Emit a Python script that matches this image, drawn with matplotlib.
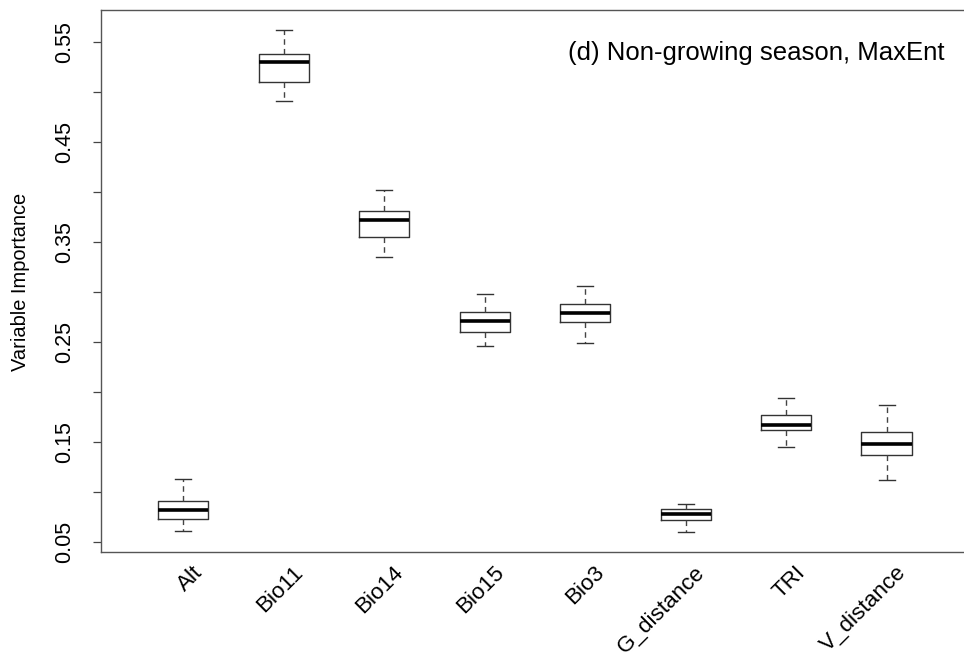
import matplotlib
matplotlib.use("Agg")
import matplotlib.pyplot as plt
import matplotlib.transforms as mtransforms

plt.rcParams['font.family'] = ['Liberation Sans', 'DejaVu Sans']

# 变量名称
variables = ["Alt", "Bio11", "Bio14", "Bio15", "Bio3", "G_distance", "TRI", "V_distance"]
# 箱线图五数: 下须, 下四分位, 中位数, 上四分位, 上须
whisker_low = [0.0607, 0.4904, 0.3344, 0.2454, 0.2484, 0.0597, 0.1450, 0.1124]
q1 = [0.0730, 0.5097, 0.3547, 0.2594, 0.2694, 0.0724, 0.1620, 0.1370]
medians = [0.0817, 0.5300, 0.3714, 0.2707, 0.2784, 0.0784, 0.1670, 0.1477]
q3 = [0.0914, 0.5380, 0.3810, 0.2800, 0.2874, 0.0827, 0.1767, 0.1600]
whisker_high = [0.1127, 0.5617, 0.4014, 0.2980, 0.3060, 0.0877, 0.1940, 0.1870]

y_ticks = [0.05, 0.10, 0.15, 0.20, 0.25, 0.30, 0.35, 0.40, 0.45, 0.50, 0.55]
y_labels = ["0.05", "", "0.15", "", "0.25", "", "0.35", "", "0.45", "", "0.55"]

stats = []
for i, name in enumerate(variables):
    stats.append({
        "label": name,
        "whislo": whisker_low[i],
        "q1": q1[i],
        "med": medians[i],
        "q3": q3[i],
        "whishi": whisker_high[i],
        "fliers": [],
    })

fig = plt.figure(figsize=(9.64, 6.57), dpi=100)
# 右边框略超出画面 (原图被裁切)
ax = fig.add_axes([100.8 / 964, 104.7 / 657, 868.2 / 964, 542.3 / 657])

ax.bxp(stats, positions=range(1, len(variables) + 1), widths=0.5,
       capwidths=0.16, showfliers=False,
       boxprops=dict(color="#333333", linewidth=1.0),
       medianprops=dict(color="black", linewidth=2.6, solid_capstyle="butt"),
       whiskerprops=dict(color="#444444", linewidth=1.0, linestyle=(0, (4, 3))),
       capprops=dict(color="#333333", linewidth=1.0))

# R 默认的坐标范围: 数据范围两侧各延伸 4%
data_min = min(whisker_low)
data_max = max(whisker_high)
ext = (data_max - data_min) * 0.04
ax.set_ylim(data_min - ext, data_max + ext)
ax.set_xlim(0.18, len(variables) + 0.82)

ax.set_yticks(y_ticks)
ax.set_yticklabels(y_labels, rotation=90, va="center", fontsize=15.5)
ax.tick_params(axis="y", length=5.5, width=0.9, color="#444444", pad=13)
ax.tick_params(axis="x", length=0, pad=15)

ax.set_xticks(range(1, len(variables) + 1))
ax.set_xticklabels(variables, rotation=45, ha="right", va="baseline",
                   rotation_mode="anchor", fontsize=16.2)
offset = mtransforms.ScaledTranslation(20 / 100, 0, fig.dpi_scale_trans)
for lab in ax.get_xticklabels():
    lab.set_transform(lab.get_transform() + offset)

for sp in ax.spines.values():
    sp.set_color("#555555")
    sp.set_linewidth(1.0)

ax.set_ylabel("Variable Importance", fontsize=14.4, labelpad=0)
ax.yaxis.set_label_coords(30 / 964, 1 - 282 / 657, transform=fig.transFigure)

fig.text(944 / 964, 1 - 60 / 657, "(d) Non-growing season, MaxEnt",
         ha="right", va="baseline", fontsize=18.5)

fig.savefig("out.png", dpi=100)
